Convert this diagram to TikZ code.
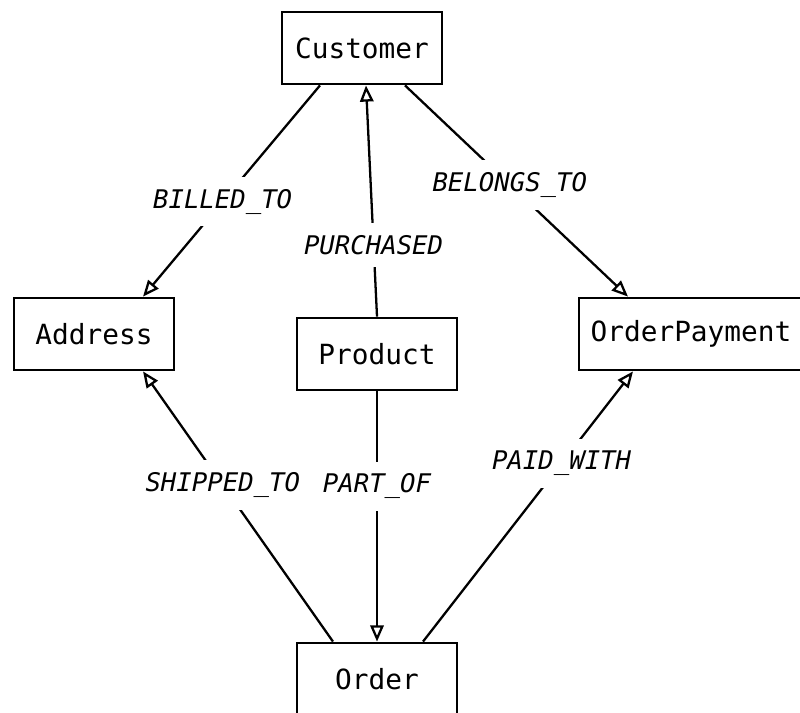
\documentclass[tikz,border=0pt]{standalone}
\usepackage{fontspec}
\setmonofont{DejaVu Sans Mono}
\usetikzlibrary{arrows.meta}
\begin{document}
\begin{tikzpicture}[x=0.01cm,y=-0.01cm,
  box/.style={draw,line width=0.8pt,minimum width=1.6cm,minimum height=0.72cm,inner sep=0pt,font=\ttfamily\fontsize{7.9}{9}\selectfont},
  rel/.style={line width=0.65pt,-{Triangle[open,length=4.6pt,width=3.8pt]}},
  lbl/.style={fill=white,inner sep=3.5pt,font=\ttfamily\itshape\fontsize{7.3}{9}\selectfont}]
\useasboundingbox (0,0) rectangle (800,712);
\clip (0,0) rectangle (800,712);

\node[box] (customer) at (362,48) {Customer};
\node[box] (address) at (94,334) {Address};
\node[box] (product) at (377,354) {Product};
\node[box,minimum width=2.24cm] (payment) at (691,334) {OrderPayment};
\node[box] (order) at (377,679) {Order};

\draw[rel] ([xshift=-0.42cm]customer.south) -- node[lbl,pos=0.55] {BILLED\_TO} ([xshift=0.49cm]address.north);
\draw[rel] ([xshift=0.43cm]customer.south) -- node[lbl,pos=0.47] {BELONGS\_TO} ([xshift=-0.63cm]payment.north);
\draw[rel] (product.north) -- node[lbl,pos=0.31] {PURCHASED} ([xshift=0.04cm]customer.south);
\draw[rel] ([xshift=-0.44cm]order.north) -- node[lbl,pos=0.58] {SHIPPED\_TO} ([xshift=0.49cm]address.south);
\draw[rel] (product.south) -- node[lbl,pos=0.38] {PART\_OF} (order.north);
\draw[rel] ([xshift=0.46cm]order.north) -- node[lbl,pos=0.66] {PAID\_WITH} ([xshift=-0.58cm]payment.south);
\end{tikzpicture}
\end{document}
